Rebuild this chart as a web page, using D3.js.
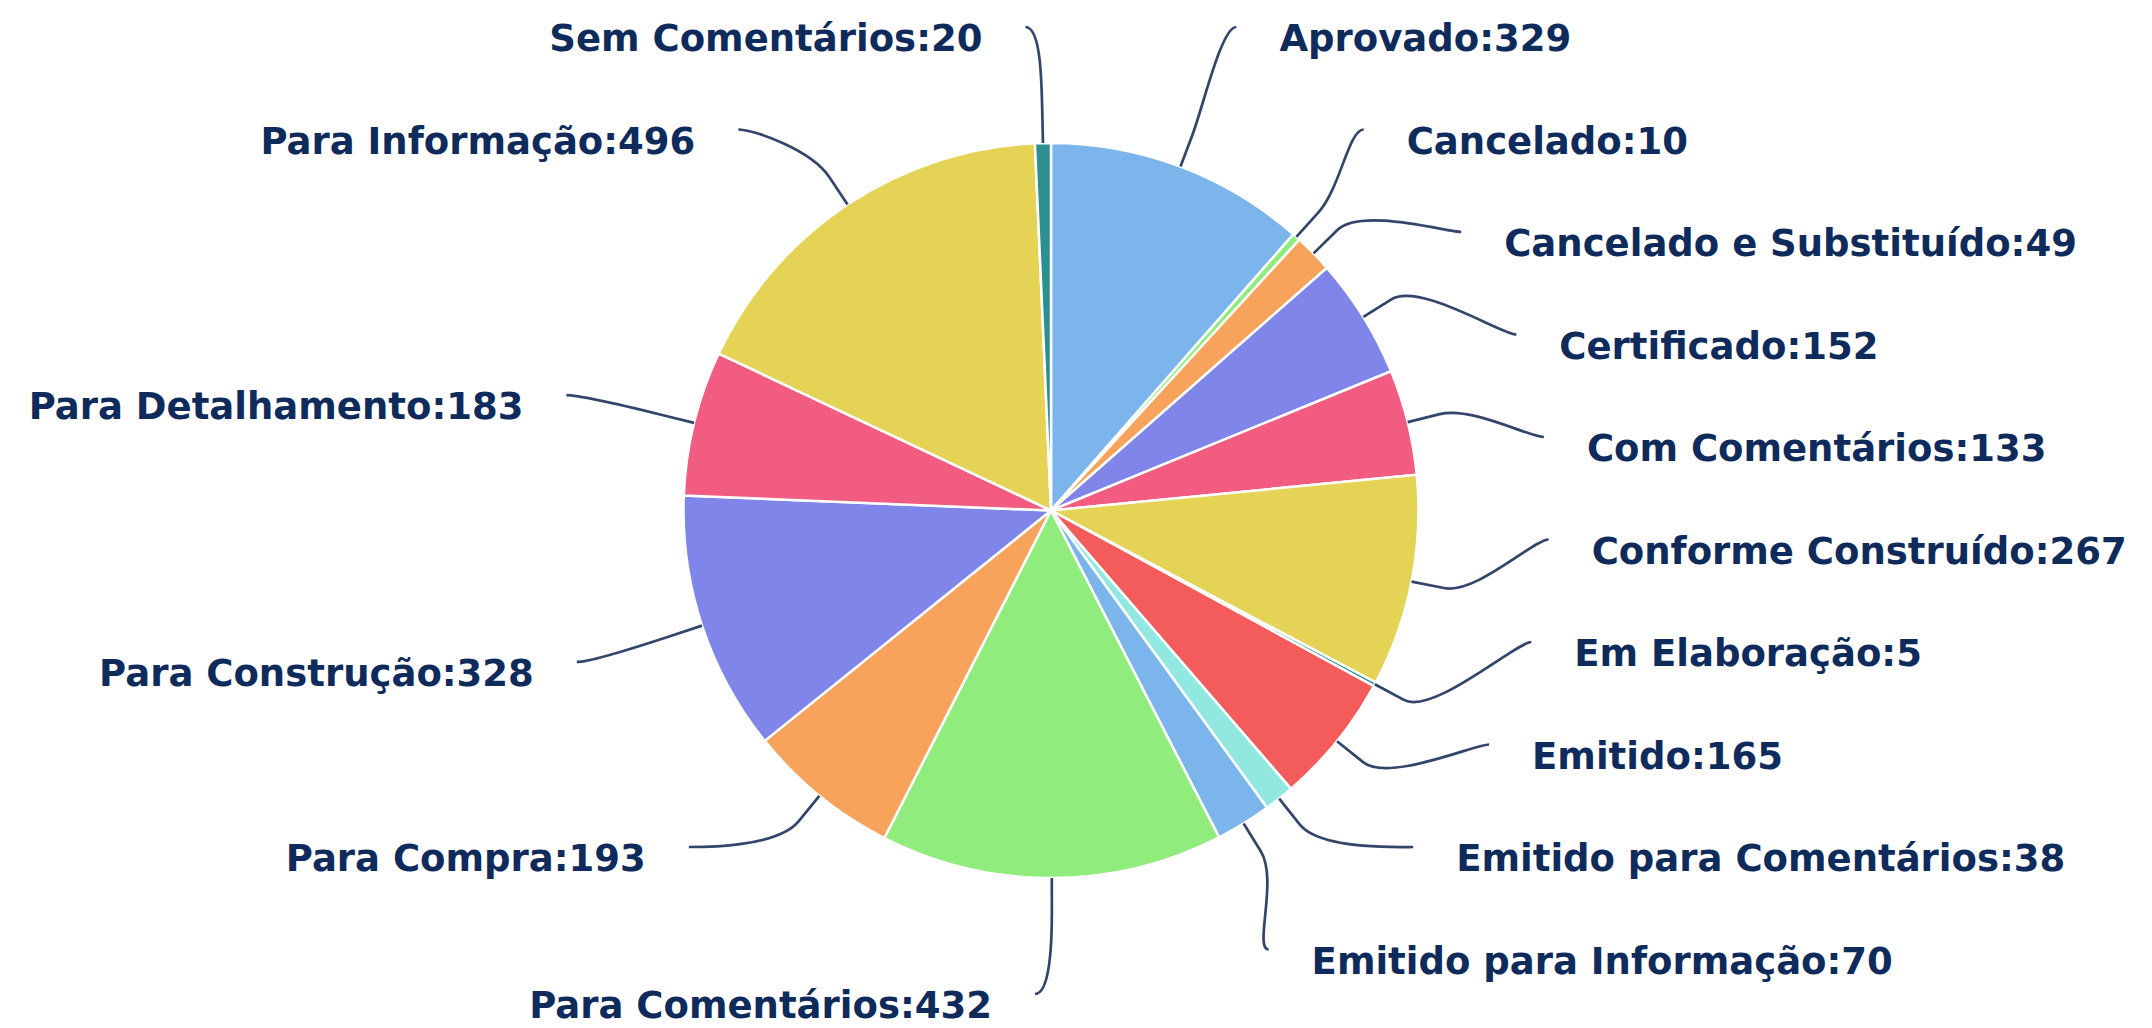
<!DOCTYPE html>
<html>
<head>
<meta charset="utf-8">
<script src="https://cdn.jsdelivr.net/npm/d3@7"></script>
<style>
  body { margin: 0; background: #fff; }
  svg { display: block; }
</style>
</head>
<body>
<svg id="chart" width="2152" height="1028"></svg>
<script>
// dados do gráfico
var categories = ["Aprovado", "Cancelado", "Cancelado e Substituído", "Certificado",
  "Com Comentários", "Conforme Construído", "Em Elaboração", "Emitido",
  "Emitido para Comentários", "Emitido para Informação", "Para Comentários",
  "Para Compra", "Para Construção", "Para Detalhamento", "Para Informação",
  "Sem Comentários"];
var values = [329, 10, 49, 152, 133, 267, 5, 165, 38, 70, 432, 193, 328, 183, 496, 20];
var palette = ["#7cb5ec", "#90ed7d", "#f7a35c", "#8085e9", "#f15c80",
  "#e4d354", "#2b908f", "#f45b5b", "#91e8e1"];

var width = 2152, height = 1028;
var cx = 1051, cy = 510.5, radius = 367.5;
var labelDistance = 116;          // distância do rótulo
var R = radius + labelDistance;
var connectorOffset = 33;         // segunda quebra do conector
var slotHeight = 102.5;
var hook = 15, textGap = 58;

var data = categories.map(function (c, i) { return { name: c, value: values[i] }; });

var svg = d3.select("#chart");
var g = svg.append("g").attr("transform", "translate(" + cx + "," + cy + ")");

var pie = d3.pie().sort(null).value(function (d) { return d.value; });
var arc = d3.arc().innerRadius(0).outerRadius(radius);
var arcs = pie(data);

g.selectAll("path.slice")
  .data(arcs)
  .enter()
  .append("path")
  .attr("class", "slice")
  .attr("d", arc)
  .attr("fill", function (d, i) { return palette[i % palette.length]; })
  .attr("stroke", "#fff")
  .attr("stroke-width", 2.5)
  .attr("stroke-linejoin", "round");

// posição natural dos rótulos
function polar(a, r) { return [Math.sin(a) * r, -Math.cos(a) * r]; }

arcs.forEach(function (d) {
  var mid = (d.startAngle + d.endAngle) / 2;
  d.mid = mid;
  d.half = Math.sin(mid) < 0.01 ? 1 : 0; // 1 = esquerda
  d.base = polar(mid, radius);
  d.brk = polar(mid, radius + connectorOffset);
  d.naturalY = polar(mid, R)[1];
});

var halves = [
  arcs.filter(function (d) { return d.half === 0; }),
  arcs.filter(function (d) { return d.half === 1; }).reverse()
];

function getX(y, left) {
  var s = Math.max(-1, Math.min(1, y / R));
  return (left ? -1 : 1) * Math.cos(Math.asin(s)) * R;
}

// distribuição em "slots", de cima para baixo
halves.forEach(function (points, side) {
  var slots = [];
  for (var pos = -R; pos <= R + 0.001; pos += slotHeight) slots.push(pos);
  var n = slots.length, len = points.length, used = [];
  points.forEach(function (p, j) {
    var closest = 1e9, idx = 0;
    slots.forEach(function (s, k) {
      if (s === null) return;
      var dist = Math.abs(s - p.naturalY);
      if (dist < closest) { closest = dist; idx = k; }
    });
    if (idx < j && slots[j] !== null) idx = j;
    else if (n < len - j + idx && slots[j] !== null) {
      idx = n - len + j;
      while (slots[idx] === null) idx++;
    } else {
      while (slots[idx] === null) idx++;
    }
    used.push({ i: idx, y: slots[idx] });
    slots[idx] = null;
  });
  used.sort(function (a, b) { return a.y - b.y; });
  points.forEach(function (p, j) {
    var slot = used[j], y = slot.y;
    if ((p.naturalY > y && slots[slot.i + 1] !== null) ||
        (p.naturalY < y && slots[slot.i - 1] !== null)) {
      y = p.naturalY;
    }
    p.ly = y;
    p.lx = getX(Math.abs(Math.abs(y) - R) < 0.01 ? p.naturalY : y, side === 1);
  });
});

// conectores
g.selectAll("path.connector")
  .data(arcs)
  .enter()
  .append("path")
  .attr("class", "connector")
  .attr("fill", "none")
  .attr("stroke", "#34456b")
  .attr("stroke-width", 2.7)
  .attr("d", function (d) {
    var sgn = d.half ? -1 : 1;
    var p = d3.path();
    p.moveTo(d.lx + sgn * hook, d.ly);
    p.bezierCurveTo(d.lx, d.ly,
      2 * d.brk[0] - d.base[0], 2 * d.brk[1] - d.base[1],
      d.brk[0], d.brk[1]);
    p.lineTo(d.base[0], d.base[1]);
    return p.toString();
  });

// rótulos
g.selectAll("text.label")
  .data(arcs)
  .enter()
  .append("text")
  .attr("class", "label")
  .attr("x", function (d) { return d.lx + (d.half ? -textGap : textGap); })
  .attr("y", function (d) { return d.ly + 24; })
  .attr("text-anchor", function (d) { return d.half ? "end" : "start"; })
  .style("font-family", "'DejaVu Sans', Verdana, sans-serif")
  .style("font-weight", "bold")
  .style("font-size", "37px")
  .attr("fill", "#0f2b5b")
  .text(function (d) { return d.data.name + ":" + d.data.value; });
</script>
</body>
</html>
